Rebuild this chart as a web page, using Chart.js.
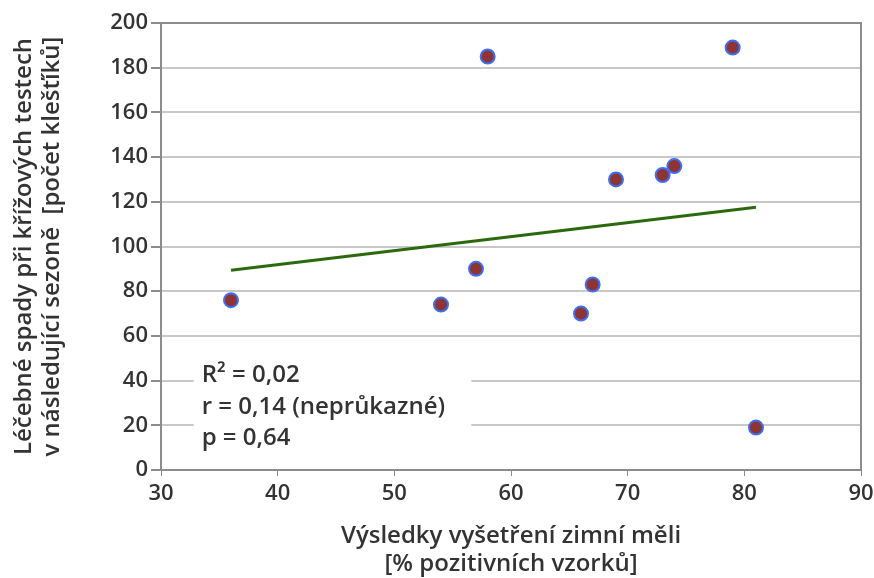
<!DOCTYPE html>
<html>
<head>
<meta charset="utf-8">
<script src="https://cdn.jsdelivr.net/npm/chart.js@4"></script>
<style>
  html, body { margin: 0; padding: 0; background: #fff; }
  #wrap { width: 874px; height: 578px; }
</style>
</head>
<body>
<div id="wrap"><canvas id="chart" width="874" height="578"></canvas></div>
<script>
// data
const xValues = [36, 54, 57, 58, 66, 67, 69, 73, 74, 79, 81];
const yValues = [76, 74, 90, 185, 70, 83, 130, 132, 136, 189, 19];
const trendX = [36, 81];
const trendY = [89.4, 117.6];
const statsText = ["R\u00b2 = 0,02", "r = 0,14 (neprůkazné)", "p = 0,64"];

const FONT = "'Open Sans', sans-serif";
const TEXT = "#333333";

// gray frame top + right, like the original
const framePlugin = {
  id: "frame",
  afterDraw(chart) {
    const { ctx, chartArea: a } = chart;
    ctx.save();
    ctx.strokeStyle = "#8c8c8c";
    ctx.lineWidth = 2;
    ctx.beginPath();
    ctx.moveTo(a.left, a.top);
    ctx.lineTo(a.right, a.top);
    ctx.lineTo(a.right, a.bottom);
    ctx.stroke();
    ctx.restore();
  }
};

// white text box with the statistics
const statsPlugin = {
  id: "stats",
  beforeDatasetsDraw(chart) {
    const { ctx, scales } = chart;
    const x0 = scales.x.getPixelForValue(32.8);
    const x1 = scales.x.getPixelForValue(56.6);
    const yTop = scales.y.getPixelForValue(52);
    const yBot = scales.y.getPixelForValue(9);
    ctx.save();
    ctx.fillStyle = "#fff";
    ctx.fillRect(x0, yTop, x1 - x0, yBot - yTop);
    ctx.fillStyle = TEXT;
    ctx.font = "600 24px " + FONT;
    ctx.textBaseline = "alphabetic";
    statsText.forEach((t, i) => {
      ctx.fillText(t, x0 + 8, 382 + i * 31.5);
    });
    ctx.restore();
  }
};

const ctx = document.getElementById("chart");

new Chart(ctx, {
  type: "scatter",
  data: {
    datasets: [
      {
        label: "data",
        data: xValues.map((x, i) => ({ x: x, y: yValues[i] })),
        backgroundColor: "#8e3434",
        borderColor: "#3d6ff0",
        borderWidth: 2,
        pointRadius: 7,
        order: 1
      },
      {
        label: "trend",
        type: "line",
        data: trendX.map((x, i) => ({ x: x, y: trendY[i] })),
        borderColor: "#2b6a0c",
        borderWidth: 3,
        pointRadius: 0,
        fill: false,
        order: 2
      }
    ]
  },
  options: {
    responsive: false,
    animation: false,
    layout: { padding: { top: 23, right: 13, left: 0, bottom: 0 } },
    plugins: {
      legend: { display: false },
      tooltip: { enabled: false }
    },
    scales: {
      x: {
        type: "linear",
        min: 30,
        max: 90,
        ticks: { stepSize: 10, color: TEXT, font: { family: FONT, size: 22, weight: "600" }, padding: 5 },
        grid: { drawOnChartArea: false, drawTicks: true, tickLength: 6, color: "#8c8c8c" },
        border: { color: "#8c8c8c", width: 2 },
        title: {
          display: true,
          text: ["Výsledky vyšetření zimní měli", "[% pozitivních vzorků]"],
          color: TEXT,
          font: { family: FONT, size: 24, weight: "600", lineHeight: 1.17 },
          padding: { top: 0, bottom: 0 }
        },
        afterFit(scale) {
          scale.height = 108;
          scale.paddingLeft = 0;
          scale.paddingRight = 0;
        }
      },
      y: {
        min: 0,
        max: 200,
        ticks: { stepSize: 20, color: TEXT, font: { family: FONT, size: 22, weight: "600" }, padding: 3 },
        grid: { color: "#c8c8c8", lineWidth: 2, tickColor: "#8c8c8c", tickLength: 10 },
        border: { color: "#8c8c8c", width: 2 },
        title: {
          display: true,
          text: ["Léčebné spady při křížových testech", "v následující sezoně  [počet klešťíků]"],
          color: TEXT,
          font: { family: FONT, size: 24, weight: "600", lineHeight: 1.13 },
          padding: { top: 11, bottom: 0 }
        },
        afterFit(scale) {
          scale.width = 161;
          scale.paddingTop = 0;
          scale.paddingBottom = 0;
        }
      }
    }
  },
  plugins: [statsPlugin, framePlugin]
});
</script>
</body>
</html>
